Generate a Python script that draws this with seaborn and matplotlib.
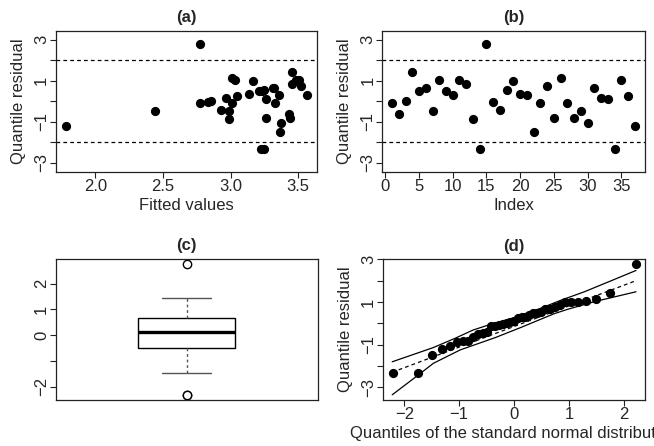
import matplotlib
matplotlib.use("Agg")
import matplotlib.pyplot as plt
import seaborn as sns
import numpy as np
import pandas as pd
from statistics import NormalDist

# quantile residuals, by observation index
index = list(range(1, 38))
residual = [-0.11, -0.65, 0.00, 1.43, 0.50, 0.65, -0.50, 1.02, 0.50, 0.28,
            1.02, 0.84, -0.89, -2.32, 2.77, -0.03, -0.41, 0.54, 0.99, 0.37,
            0.28, -1.49, -0.08, 0.76, -0.84, 1.14, -0.11, -0.81, -0.47, -1.07,
            0.65, 0.13, 0.08, -2.32, 1.05, 0.24, -1.23]
fitted = [2.774, 3.430, 2.858, 3.455, 3.210, 3.315, 2.440, 3.487, 3.230, 3.357,
          3.504, 3.455, 2.988, 3.222, 2.774, 2.833, 2.930, 3.246, 3.165, 3.136,
          3.566, 3.364, 3.008, 3.520, 3.440, 3.008, 3.330, 3.260, 2.988, 3.374,
          3.320, 2.968, 3.260, 3.245, 3.030, 3.045, 1.780]

# simulated envelope for the normal QQ plot
env_upper_x = [-2.22, -1.47, -1.07, -0.75, -0.43, 0.03, 0.50, 0.86, 1.28, 1.77, 2.22]
env_upper_y = [-1.81, -1.14, -0.70, -0.32, -0.05, 0.28, 0.72, 1.09, 1.48, 2.00, 2.48]
env_lower_x = [-2.22, -1.74, -1.47, -0.98, -0.34, 0.12, 0.73, 0.98, 1.47, 2.22]
env_lower_y = [-3.36, -2.42, -1.88, -1.25, -0.67, -0.20, 0.45, 0.66, 1.02, 1.48]
env_mid_x = [-2.22, 2.22]
env_mid_y = [-2.30, 2.00]

MINUS = "\u2212"


def pad(lo, hi, f=0.04):
    r = hi - lo
    return lo - f * r, hi + f * r


def style_axis(ax):
    for s in ax.spines.values():
        s.set_color("#222222")
        s.set_linewidth(0.9)
    ax.tick_params(axis="both", length=4, width=0.8, color="#222222",
                   labelsize=12, pad=1)
    ax.tick_params(axis="y", labelrotation=90, pad=1)
    for lab in ax.get_yticklabels():
        lab.set_va("center")


def odd_yticks(ax):
    ax.set_yticks(range(-3, 4))
    ax.set_yticklabels([f"{v}".replace("-", MINUS) if v % 2 else "" for v in range(-3, 4)])


def main():
    sns.set_style("ticks")
    plt.rcParams["font.family"] = ["Liberation Sans", "DejaVu Sans"]

    fig = plt.figure(figsize=(6.54, 4.46), dpi=100)
    ax_a = fig.add_axes([0.0856, 0.615, 0.3986, 0.316])
    ax_b = fig.add_axes([0.5846, 0.615, 0.4010, 0.316])
    ax_c = fig.add_axes([0.0856, 0.1031, 0.4000, 0.317])
    ax_d = fig.add_axes([0.5856, 0.1031, 0.4010, 0.316])

    df = pd.DataFrame({"index": index, "residual": residual, "fitted": fitted})
    dot = dict(color="black", s=44, linewidth=0, legend=False)
    title_kw = dict(fontsize=12, fontweight="bold", pad=6)

    # (a) residuals vs fitted
    sns.scatterplot(ax=ax_a, data=df, x="fitted", y="residual", **dot)
    for h in (-2, 2):
        ax_a.axhline(h, color="black", lw=0.9, ls=(0, (3, 2.5)))
    ax_a.set_xlim(*pad(min(fitted), max(fitted)))
    ax_a.set_ylim(-3.44, 3.43)
    ax_a.set_xticks([2.0, 2.5, 3.0, 3.5])
    ax_a.set_xticklabels(["2.0", "2.5", "3.0", "3.5"])
    odd_yticks(ax_a)
    ax_a.set_xlabel("Fitted values", fontsize=12, labelpad=3)
    ax_a.set_ylabel("Quantile residual", fontsize=12, labelpad=6)
    ax_a.set_title("(a)", **title_kw)

    # (b) residuals vs index
    sns.scatterplot(ax=ax_b, data=df, x="index", y="residual", **dot)
    for h in (-2, 2):
        ax_b.axhline(h, color="black", lw=0.9, ls=(0, (3, 2.5)))
    ax_b.set_xlim(*pad(min(index), max(index)))
    ax_b.set_ylim(-3.44, 3.43)
    ax_b.set_xticks(range(0, 36, 5))
    odd_yticks(ax_b)
    ax_b.set_xlabel("Index", fontsize=12, labelpad=3)
    ax_b.set_ylabel("Quantile residual", fontsize=12, labelpad=6)
    ax_b.set_title("(b)", **title_kw)

    # (c) boxplot
    sns.boxplot(ax=ax_c, y=df["residual"], width=0.372, color="white",
                linecolor="black", linewidth=1.0, whis=1.5,
                whiskerprops=dict(linestyle=(0, (2, 2)), color="#555555"),
                capprops=dict(color="#555555"),
                medianprops=dict(linewidth=2.4, color="black"),
                flierprops=dict(marker="o", markerfacecolor="white",
                                markeredgecolor="black", markersize=6,
                                markeredgewidth=1.0))
    ax_c.set_xlim(-0.5, 0.5)
    ax_c.set_ylim(*pad(min(residual), max(residual)))
    ax_c.set_xticks([])
    ax_c.set_yticks(range(-2, 3))
    ax_c.set_yticklabels([MINUS + "2", "", "0", "1", "2"])
    ax_c.set_xlabel("")
    ax_c.set_ylabel("")
    ax_c.set_title("(c)", **title_kw)

    # (d) normal QQ plot with envelope
    n = len(residual)
    theo = [NormalDist().inv_cdf((i - 0.5) / n) for i in range(1, n + 1)]
    qq = pd.DataFrame({"theoretical": theo, "sample": sorted(residual)})
    sns.lineplot(ax=ax_d, x=env_upper_x, y=env_upper_y, color="black", lw=0.9,
                 estimator=None, sort=False)
    sns.lineplot(ax=ax_d, x=env_lower_x, y=env_lower_y, color="black", lw=0.9,
                 estimator=None, sort=False)
    sns.lineplot(ax=ax_d, x=env_mid_x, y=env_mid_y, color="black", lw=0.9,
                 ls=(0, (3, 2.5)), estimator=None, sort=False)
    sns.scatterplot(ax=ax_d, data=qq, x="theoretical", y="sample", zorder=3, **dot)
    ax_d.set_xlim(*pad(min(theo), max(theo)))
    ax_d.set_ylim(*pad(min(env_lower_y + residual), max(env_upper_y + residual)))
    ax_d.set_xticks(range(-2, 3))
    odd_yticks(ax_d)
    # the reference figure clips this label at the right edge
    ax_d.set_xlabel("Quantiles of the standard normal distribution", fontsize=12,
                    labelpad=3)
    ax_d.set_ylabel("Quantile residual", fontsize=12, labelpad=6)
    ax_d.set_title("(d)", **title_kw)

    for ax in (ax_a, ax_b, ax_c, ax_d):
        style_axis(ax)

    fig.savefig("out.png", dpi=100)


if __name__ == "__main__":
    main()
